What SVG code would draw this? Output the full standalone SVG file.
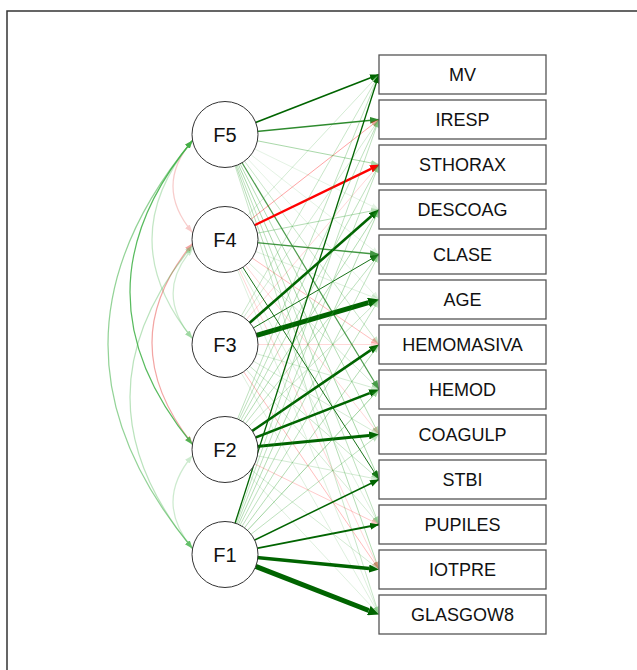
<svg xmlns="http://www.w3.org/2000/svg" width="637" height="670" viewBox="0 0 637 670">
<style>
.dk{stroke:#006400;fill:none}
.md{stroke:#2e8b2e;fill:none}
.g{stroke:#2ca02c;fill:none}
.r{stroke:#ff0000;fill:none}
.cv{fill:none;stroke-width:1.2}
.fac circle{fill:#fff;stroke:#333;stroke-width:1}
.fac text{font-family:"Liberation Sans",Arial,sans-serif;font-size:20px;text-anchor:middle;fill:#111}
.ind rect{fill:#fff;stroke:#555;stroke-width:1.3}
.ind text{font-family:"Liberation Sans",Arial,sans-serif;font-size:18px;text-anchor:middle;fill:#111}
</style>
<defs>
<marker id="mDk" viewBox="0 0 9 7" refX="9" refY="3.5" markerWidth="9" markerHeight="7" markerUnits="userSpaceOnUse" orient="auto"><path d="M0,0L9,3.5L0,7z" fill="#006400"/></marker>
<marker id="mMd" viewBox="0 0 9 7" refX="9" refY="3.5" markerWidth="9" markerHeight="7" markerUnits="userSpaceOnUse" orient="auto"><path d="M0,0L9,3.5L0,7z" fill="#2e8b2e"/></marker>
<marker id="mDkB" viewBox="0 0 10 8" refX="0" refY="4" markerWidth="10" markerHeight="8" markerUnits="userSpaceOnUse" orient="auto"><path d="M0,0L10,4L0,8z" fill="#006400"/></marker>
<marker id="mDkL" viewBox="0 0 11 10" refX="0" refY="5" markerWidth="11" markerHeight="10" markerUnits="userSpaceOnUse" orient="auto"><path d="M0,0L11,5L0,10z" fill="#006400"/></marker>
<marker id="mRB" viewBox="0 0 10 8" refX="0" refY="4" markerWidth="10" markerHeight="8" markerUnits="userSpaceOnUse" orient="auto"><path d="M0,0L10,4L0,8z" fill="#ff0000"/></marker>
<marker id="mG" viewBox="0 0 8 6" refX="8" refY="3" markerWidth="8" markerHeight="6" markerUnits="userSpaceOnUse" orient="auto"><path d="M0,0L8,3L0,6z" fill="#2ca02c"/></marker>
<marker id="mR" viewBox="0 0 8 6" refX="8" refY="3" markerWidth="8" markerHeight="6" markerUnits="userSpaceOnUse" orient="auto"><path d="M0,0L8,3L0,6z" fill="#ff0000"/></marker>
<marker id="cG" viewBox="0 0 8 6" refX="8" refY="3" markerWidth="8" markerHeight="6" markerUnits="userSpaceOnUse" orient="auto-start-reverse"><path d="M0,0L8,3L0,6z" fill="#3cb043"/></marker>
<marker id="cR" viewBox="0 0 8 6" refX="8" refY="3" markerWidth="8" markerHeight="6" markerUnits="userSpaceOnUse" orient="auto-start-reverse"><path d="M0,0L8,3L0,6z" fill="#e53935"/></marker>
</defs>
<rect width="637" height="670" fill="#fff"/>
<path d="M7,670V11H637" fill="none" stroke="#333" stroke-width="1.5"/>
<g id="connectors">
<!-- F5 -->
<line x1="225" y1="134.5" x2="379" y2="74.5" class="dk" stroke-width="1.6" marker-end="url(#mDk)"/>
<line x1="225" y1="134.5" x2="379" y2="119.5" class="md" stroke-width="1.5" marker-end="url(#mMd)"/>
<line x1="225" y1="134.5" x2="379" y2="164.5" class="g" opacity="0.4" marker-end="url(#mG)"/>
<line x1="225" y1="134.5" x2="379" y2="209.5" class="g" opacity="0.12" marker-end="url(#mG)"/>
<line x1="225" y1="134.5" x2="379" y2="254.5" class="g" opacity="0.12" marker-end="url(#mG)"/>
<line x1="225" y1="134.5" x2="379" y2="299.5" class="g" opacity="0.12" marker-end="url(#mG)"/>
<line x1="225" y1="134.5" x2="379" y2="344.5" class="g" opacity="0.25" marker-end="url(#mG)"/>
<line x1="225" y1="134.5" x2="379" y2="389.5" class="md" stroke-width="1.2" opacity="0.85" marker-end="url(#mMd)"/>
<line x1="225" y1="134.5" x2="379" y2="434.5" class="g" opacity="0.35" marker-end="url(#mG)"/>
<line x1="225" y1="134.5" x2="379" y2="479.5" class="g" opacity="0.4" marker-end="url(#mG)"/>
<line x1="225" y1="134.5" x2="379" y2="524.5" class="g" opacity="0.3" marker-end="url(#mG)"/>
<line x1="225" y1="134.5" x2="379" y2="569.5" class="g" opacity="0.35" marker-end="url(#mG)"/>
<line x1="225" y1="134.5" x2="379" y2="614.5" class="g" opacity="0.25" marker-end="url(#mG)"/>
<!-- F4 -->
<line x1="225" y1="239.5" x2="379" y2="74.5" class="g" opacity="0.2" marker-end="url(#mG)"/>
<line x1="225" y1="239.5" x2="379" y2="119.5" class="r" opacity="0.35" marker-end="url(#mR)"/>
<line x1="225" y1="239.5" x2="371.01" y2="168.88" class="r" stroke-width="2.4" marker-end="url(#mRB)"/>
<line x1="225" y1="239.5" x2="379" y2="209.5" class="g" opacity="0.35" marker-end="url(#mG)"/>
<line x1="225" y1="239.5" x2="379" y2="254.5" class="md" stroke-width="1.3" opacity="0.9" marker-end="url(#mMd)"/>
<line x1="225" y1="239.5" x2="379" y2="299.5" class="g" opacity="0.15" marker-end="url(#mG)"/>
<line x1="225" y1="239.5" x2="379" y2="344.5" class="r" opacity="0.25" marker-end="url(#mR)"/>
<line x1="225" y1="239.5" x2="379" y2="389.5" class="g" opacity="0.2" marker-end="url(#mG)"/>
<line x1="225" y1="239.5" x2="379" y2="434.5" class="r" opacity="0.15" marker-end="url(#mR)"/>
<line x1="225" y1="239.5" x2="379" y2="479.5" class="dk" stroke-width="1" opacity="0.9" marker-end="url(#mDk)"/>
<line x1="225" y1="239.5" x2="379" y2="524.5" class="g" opacity="0.15" marker-end="url(#mG)"/>
<line x1="225" y1="239.5" x2="379" y2="569.5" class="r" opacity="0.15" marker-end="url(#mR)"/>
<line x1="225" y1="239.5" x2="379" y2="614.5" class="g" opacity="0.15" marker-end="url(#mG)"/>
<!-- F3 -->
<line x1="225" y1="344.5" x2="379" y2="74.5" class="g" opacity="0.25" marker-end="url(#mG)"/>
<line x1="225" y1="344.5" x2="379" y2="119.5" class="g" opacity="0.2" marker-end="url(#mG)"/>
<line x1="225" y1="344.5" x2="379" y2="164.5" class="r" opacity="0.15" marker-end="url(#mR)"/>
<line x1="225" y1="344.5" x2="371.48" y2="216.09" class="dk" stroke-width="2.6" marker-end="url(#mDkB)"/>
<line x1="225" y1="344.5" x2="379" y2="254.5" class="dk" stroke-width="1" opacity="0.9" marker-end="url(#mDk)"/>
<line x1="225" y1="344.5" x2="368.44" y2="302.59" class="dk" stroke-width="5" marker-end="url(#mDkL)"/>
<line x1="225" y1="344.5" x2="379" y2="344.5" class="r" opacity="0.15" marker-end="url(#mR)"/>
<line x1="225" y1="344.5" x2="379" y2="389.5" class="g" opacity="0.2" marker-end="url(#mG)"/>
<line x1="225" y1="344.5" x2="379" y2="434.5" class="g" opacity="0.2" marker-end="url(#mG)"/>
<line x1="225" y1="344.5" x2="379" y2="479.5" class="g" opacity="0.25" marker-end="url(#mG)"/>
<line x1="225" y1="344.5" x2="379" y2="524.5" class="g" opacity="0.2" marker-end="url(#mG)"/>
<line x1="225" y1="344.5" x2="379" y2="569.5" class="r" opacity="0.25" marker-end="url(#mR)"/>
<line x1="225" y1="344.5" x2="379" y2="614.5" class="g" opacity="0.15" marker-end="url(#mG)"/>
<!-- F2 -->
<line x1="225" y1="449.5" x2="379" y2="74.5" class="g" opacity="0.3" marker-end="url(#mG)"/>
<line x1="225" y1="449.5" x2="379" y2="119.5" class="g" opacity="0.3" marker-end="url(#mG)"/>
<line x1="225" y1="449.5" x2="379" y2="164.5" class="g" opacity="0.3" marker-end="url(#mG)"/>
<line x1="225" y1="449.5" x2="379" y2="209.5" class="g" opacity="0.35" marker-end="url(#mG)"/>
<line x1="225" y1="449.5" x2="379" y2="254.5" class="g" opacity="0.3" marker-end="url(#mG)"/>
<line x1="225" y1="449.5" x2="379" y2="299.5" class="g" opacity="0.25" marker-end="url(#mG)"/>
<line x1="225" y1="449.5" x2="370.74" y2="350.13" class="dk" stroke-width="2.6" marker-end="url(#mDkB)"/>
<line x1="225" y1="449.5" x2="369.68" y2="393.13" class="dk" stroke-width="2.6" marker-end="url(#mDkB)"/>
<line x1="225" y1="449.5" x2="369.05" y2="435.47" class="dk" stroke-width="3" marker-end="url(#mDkB)"/>
<line x1="225" y1="449.5" x2="379" y2="479.5" class="g" opacity="0.2" marker-end="url(#mG)"/>
<line x1="225" y1="449.5" x2="379" y2="524.5" class="r" opacity="0.2" marker-end="url(#mR)"/>
<line x1="225" y1="449.5" x2="379" y2="569.5" class="g" opacity="0.2" marker-end="url(#mG)"/>
<line x1="225" y1="449.5" x2="379" y2="614.5" class="g" opacity="0.15" marker-end="url(#mG)"/>
<!-- F1 -->
<line x1="225" y1="554.5" x2="379" y2="74.5" class="dk" stroke-width="1.3" marker-end="url(#mDk)"/>
<line x1="225" y1="554.5" x2="379" y2="119.5" class="g" opacity="0.3" marker-end="url(#mG)"/>
<line x1="225" y1="554.5" x2="379" y2="164.5" class="g" opacity="0.3" marker-end="url(#mG)"/>
<line x1="225" y1="554.5" x2="379" y2="209.5" class="g" opacity="0.35" marker-end="url(#mG)"/>
<line x1="225" y1="554.5" x2="379" y2="254.5" class="g" opacity="0.3" marker-end="url(#mG)"/>
<line x1="225" y1="554.5" x2="379" y2="299.5" class="g" opacity="0.3" marker-end="url(#mG)"/>
<line x1="225" y1="554.5" x2="379" y2="344.5" class="g" opacity="0.35" marker-end="url(#mG)"/>
<line x1="225" y1="554.5" x2="379" y2="389.5" class="g" opacity="0.45" marker-end="url(#mG)"/>
<line x1="225" y1="554.5" x2="379" y2="434.5" class="g" opacity="0.3" marker-end="url(#mG)"/>
<line x1="225" y1="554.5" x2="379" y2="479.5" class="dk" stroke-width="1.5" marker-end="url(#mDk)"/>
<line x1="225" y1="554.5" x2="379" y2="524.5" class="dk" stroke-width="1.8" marker-end="url(#mDk)"/>
<line x1="225" y1="554.5" x2="369.05" y2="568.53" class="dk" stroke-width="3.5" marker-end="url(#mDkB)"/>
<line x1="225" y1="554.5" x2="368.75" y2="610.51" class="dk" stroke-width="5" marker-end="url(#mDkL)"/>
</g>
<g id="covariances">
<path d="M192.5,140.5Q153.5,186 192.5,232.5" class="cv" stroke="#e53935" opacity="0.25" marker-start="url(#cR)" marker-end="url(#cR)"/>
<path d="M192.5,140.5Q111.5,239.5 192.5,338.5" class="cv" stroke="#3cb043" opacity="0.3" marker-start="url(#cG)" marker-end="url(#cG)"/>
<path d="M193,248Q153.5,293 192.5,338.5" class="cv" stroke="#3cb043" opacity="0.25" marker-start="url(#cG)" marker-end="url(#cG)"/>
<path d="M192.5,243.5Q111.5,342 192.5,444" class="cv" stroke="#e53935" opacity="0.45" marker-start="url(#cR)" marker-end="url(#cR)"/>
<path d="M192.5,140.5Q67.5,292 192.5,444.5" class="cv" stroke="#3cb043" opacity="0.85" marker-start="url(#cG)" marker-end="url(#cG)"/>
<path d="M192.5,140.5Q23.5,344.5 192.5,548.5" class="cv" stroke="#3cb043" opacity="0.55" marker-start="url(#cG)" marker-end="url(#cG)"/>
<path d="M192.5,245.5Q67.5,397 192.5,548.5" class="cv" stroke="#3cb043" opacity="0.35" marker-start="url(#cG)" marker-end="url(#cG)"/>
<path d="M192.5,455.5Q153.5,502 192.5,548.5" class="cv" stroke="#3cb043" opacity="0.25" marker-start="url(#cG)" marker-end="url(#cG)"/>
</g>
<g id="F5" class="fac"><circle cx="225" cy="134.5" r="33"/><text x="225" y="141.7">F5</text></g>
<g id="F4" class="fac"><circle cx="225" cy="239.5" r="33"/><text x="225" y="246.7">F4</text></g>
<g id="F3" class="fac"><circle cx="225" cy="344.5" r="33"/><text x="225" y="351.7">F3</text></g>
<g id="F2" class="fac"><circle cx="225" cy="449.5" r="33"/><text x="225" y="456.7">F2</text></g>
<g id="F1" class="fac"><circle cx="225" cy="554.5" r="33"/><text x="225" y="561.7">F1</text></g>
<g id="MV" class="ind"><rect x="379" y="55" width="167" height="39"/><text x="462.5" y="81">MV</text></g>
<g id="IRESP" class="ind"><rect x="379" y="100" width="167" height="39"/><text x="462.5" y="126">IRESP</text></g>
<g id="STHORAX" class="ind"><rect x="379" y="145" width="167" height="39"/><text x="462.5" y="171">STHORAX</text></g>
<g id="DESCOAG" class="ind"><rect x="379" y="190" width="167" height="39"/><text x="462.5" y="216">DESCOAG</text></g>
<g id="CLASE" class="ind"><rect x="379" y="235" width="167" height="39"/><text x="462.5" y="261">CLASE</text></g>
<g id="AGE" class="ind"><rect x="379" y="280" width="167" height="39"/><text x="462.5" y="306">AGE</text></g>
<g id="HEMOMASIVA" class="ind"><rect x="379" y="325" width="167" height="39"/><text x="462.5" y="351">HEMOMASIVA</text></g>
<g id="HEMOD" class="ind"><rect x="379" y="370" width="167" height="39"/><text x="462.5" y="396">HEMOD</text></g>
<g id="COAGULP" class="ind"><rect x="379" y="415" width="167" height="39"/><text x="462.5" y="441">COAGULP</text></g>
<g id="STBI" class="ind"><rect x="379" y="460" width="167" height="39"/><text x="462.5" y="486">STBI</text></g>
<g id="PUPILES" class="ind"><rect x="379" y="505" width="167" height="39"/><text x="462.5" y="531">PUPILES</text></g>
<g id="IOTPRE" class="ind"><rect x="379" y="550" width="167" height="39"/><text x="462.5" y="576">IOTPRE</text></g>
<g id="GLASGOW8" class="ind"><rect x="379" y="595" width="167" height="39"/><text x="462.5" y="621">GLASGOW8</text></g>
</svg>
